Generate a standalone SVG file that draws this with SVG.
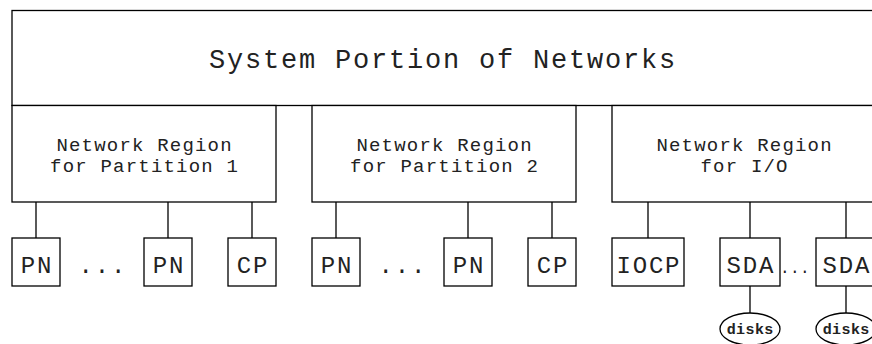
<svg xmlns="http://www.w3.org/2000/svg" width="872" height="344" viewBox="0 0 872 344">
  <style>
    .box { fill: #fff; stroke: #000; stroke-width: 1.3; }
    .wire { stroke: #000; stroke-width: 1.3; fill: none; }
    text { font-family: "Liberation Mono", "Courier New", monospace; fill: #222; text-anchor: middle; }
    .title { font-size: 27px; letter-spacing: 1.8px; }
    .region { font-size: 19px; letter-spacing: 1.2px; }
    .unit { font-size: 24px; letter-spacing: 1.8px; }
    .dots { font-size: 24px; letter-spacing: 1.8px; }
    .small-dots { font-size: 16px; letter-spacing: 0.4px; }
    .disk { font-size: 15px; font-weight: bold; letter-spacing: 0.4px; }
  </style>
  <rect width="872" height="344" fill="#fff"/>

  <!-- connectors between regions, units and disks -->
  <g id="connectors">
    <line class="wire" x1="36" y1="202" x2="36" y2="238"/>
    <line class="wire" x1="168" y1="202" x2="168" y2="238"/>
    <line class="wire" x1="252" y1="202" x2="252" y2="238"/>
    <line class="wire" x1="336" y1="202" x2="336" y2="238"/>
    <line class="wire" x1="468" y1="202" x2="468" y2="238"/>
    <line class="wire" x1="552" y1="202" x2="552" y2="238"/>
    <line class="wire" x1="648" y1="202" x2="648" y2="238"/>
    <line class="wire" x1="750" y1="202" x2="750" y2="238"/>
    <line class="wire" x1="846" y1="202" x2="846" y2="238"/>
    <line class="wire" x1="750" y1="286" x2="750" y2="313"/>
    <line class="wire" x1="846" y1="286" x2="846" y2="313"/>
  </g>

  <!-- system-wide network -->
  <g id="system">
    <rect class="box" x="12" y="10.5" width="866" height="95"/>
    <text class="title" x="443" y="68">System Portion of Networks</text>
  </g>

  <!-- network regions -->
  <g id="region-p1">
    <rect class="box" x="12" y="105.5" width="264" height="96.5"/>
    <text class="region" x="144.6" y="151">Network Region</text>
    <text class="region" x="144.6" y="172">for Partition 1</text>
  </g>
  <g id="region-p2">
    <rect class="box" x="312" y="105.5" width="264" height="96.5"/>
    <text class="region" x="444.6" y="151">Network Region</text>
    <text class="region" x="444.6" y="172">for Partition 2</text>
  </g>
  <g id="region-io">
    <rect class="box" x="612" y="105.5" width="264" height="96.5"/>
    <text class="region" x="744.6" y="151">Network Region</text>
    <text class="region" x="744.6" y="172">for I/O</text>
  </g>

  <!-- partition 1 units -->
  <g id="p1-pn-first">
    <rect class="box" x="12" y="238" width="48" height="48"/>
    <text class="unit" x="36.9" y="273">PN</text>
  </g>
  <text class="dots" x="102.9" y="273">...</text>
  <g id="p1-pn-last">
    <rect class="box" x="144" y="238" width="48" height="48"/>
    <text class="unit" x="168.9" y="273">PN</text>
  </g>
  <g id="p1-cp">
    <rect class="box" x="228" y="238" width="48" height="48"/>
    <text class="unit" x="252.9" y="273">CP</text>
  </g>

  <!-- partition 2 units -->
  <g id="p2-pn-first">
    <rect class="box" x="312" y="238" width="48" height="48"/>
    <text class="unit" x="336.9" y="273">PN</text>
  </g>
  <text class="dots" x="402.9" y="273">...</text>
  <g id="p2-pn-last">
    <rect class="box" x="444" y="238" width="48" height="48"/>
    <text class="unit" x="468.9" y="273">PN</text>
  </g>
  <g id="p2-cp">
    <rect class="box" x="528" y="238" width="48" height="48"/>
    <text class="unit" x="552.9" y="273">CP</text>
  </g>

  <!-- I/O units -->
  <g id="io-iocp">
    <rect class="box" x="612" y="238" width="72" height="48"/>
    <text class="unit" x="648.9" y="273">IOCP</text>
  </g>
  <g id="io-sda-first">
    <rect class="box" x="720" y="238" width="60" height="48"/>
    <text class="unit" x="750.9" y="273">SDA</text>
  </g>
  <text class="small-dots" x="795" y="273">...</text>
  <g id="io-sda-last">
    <rect class="box" x="816" y="238" width="60" height="48"/>
    <text class="unit" x="846.9" y="273">SDA</text>
  </g>

  <!-- disk sets -->
  <g id="disks-first">
    <ellipse class="box" cx="750" cy="329" rx="30" ry="16"/>
    <text class="disk" x="750.2" y="334">disks</text>
  </g>
  <g id="disks-last">
    <ellipse class="box" cx="846" cy="329" rx="30" ry="16"/>
    <text class="disk" x="846.2" y="334">disks</text>
  </g>
</svg>
